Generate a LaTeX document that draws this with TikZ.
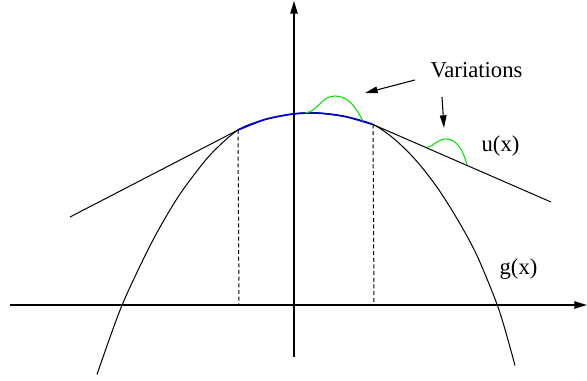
\documentclass[tikz,border=0pt]{standalone}
\usepackage{fontspec}
\setmainfont{Liberation Serif}
\usetikzlibrary{arrows.meta}
\begin{document}
\begin{tikzpicture}[x=0.75pt,y=-0.75pt,
  axis/.style={line width=1.1pt,-{Triangle[length=9.5pt,width=5.5pt]}},
  curve/.style={line width=0.75pt},
  vdash/.style={line width=0.75pt,dash pattern=on 3pt off 2pt},
  capcurve/.style={line width=1.3pt,blue!80!black},
  bump/.style={line width=0.8pt,green!90!black},
  pointer/.style={line width=0.8pt,-{Triangle[length=9.5pt,width=5pt]}},
  lbl/.style={font=\fontsize{17}{20}\selectfont,inner sep=0pt,anchor=base}]
\useasboundingbox (0,0) rectangle (587,381);
% axes
\coordinate (xs) at (10,305);
\coordinate (xe) at (587,305);
\coordinate (ys) at (294,357);
\coordinate (ye) at (294,1);
\draw[axis] (xs) -- (xe);
\draw[axis] (ys) -- (ye);
% tangent points
\coordinate (tl) at (238,130);
\coordinate (tr) at (373,124.5);
\coordinate (ll) at (70,217);
\coordinate (lr) at (551,202);
\coordinate (dl) at (239,305);
\coordinate (dr) at (374,305);
% g(x)
\draw[curve] plot[smooth,tension=0.5] coordinates {(97,374.5) (121,307.7) (147,251.7) (165,218.4) (183,189.7) (210,155.1) (238,130) (265,119.5) (293,114) (317,113) (345,116.5) (373,124.5) (395,139.6) (417,161.5) (437,187.2) (457,218.6) (477,255.6) (499,309.9) (515,365.5)};
% tangent lines
\draw[curve] (ll) -- (tl);
\draw[curve] (tr) -- (lr);
% dashed
\draw[vdash] (tl) -- (dl);
\draw[vdash] (tr) -- (dr);
% blue cap
\draw[capcurve] plot[smooth,tension=0.5] coordinates {(238,130) (265,119.5) (293,114) (317,113) (345,116.5) (373,124.5)};
% green bumps
\draw[bump] (305,113) .. controls (318,112) and (321,96) .. (335,96) .. controls (349,96) and (356,108) .. (363,121);
\draw[bump] (427,147.5) .. controls (434,146) and (438,139) .. (446,139) .. controls (456,139) and (463,149) .. (467,165);
% labels
\node[lbl] (var) at (476.5,78) {Variations};
\node[lbl] (ux) at (500.5,152) {u(x)};
\node[lbl] (gx) at (518.5,275) {g(x)};
% pointers
\coordinate (p1s) at (415,80);
\coordinate (p1e) at (365,93);
\coordinate (p2s) at (442,97);
\coordinate (p2e) at (444,128);
\draw[pointer] (p1s) -- (p1e);
\draw[pointer] (p2s) -- (p2e);
\end{tikzpicture}
\end{document}
